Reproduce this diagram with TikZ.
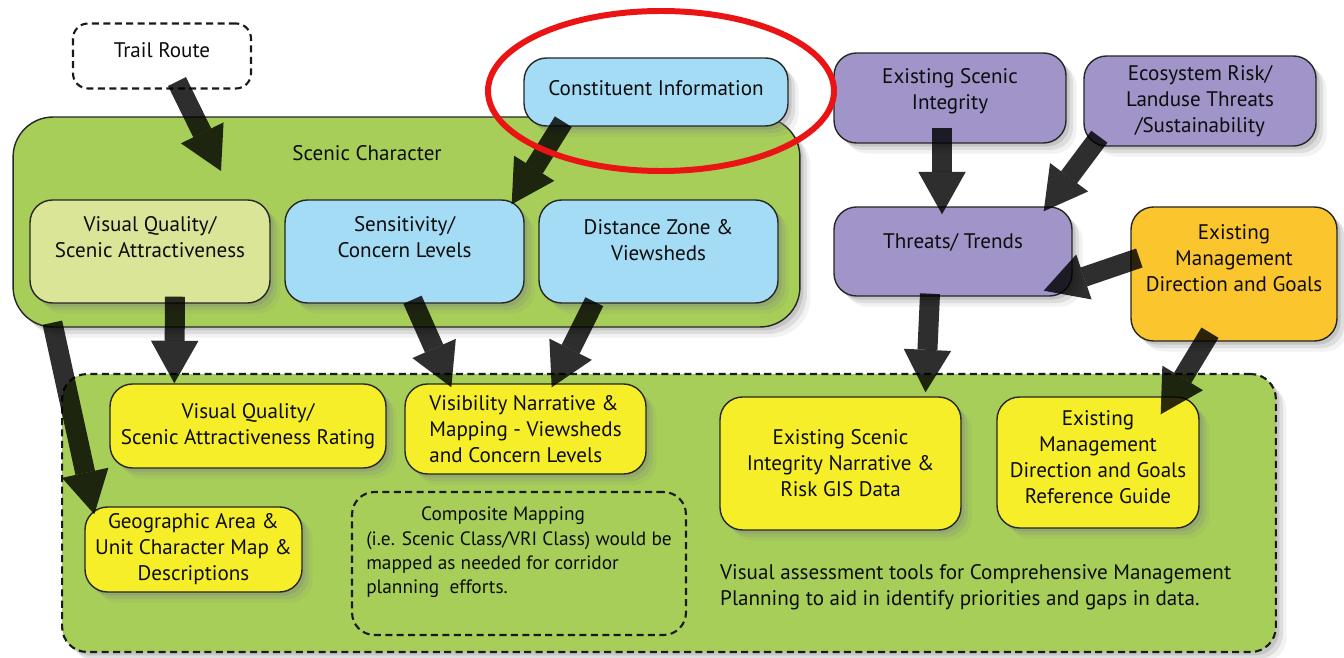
\documentclass[tikz,border=0pt]{standalone}
\usepackage{fontspec}
\setmainfont{PT Sans}
\usetikzlibrary{arrows.meta,positioning,calc,shadows}

\definecolor{scgreen}{RGB}{166,206,88}
\definecolor{vqgreen}{RGB}{218,229,152}
\definecolor{skyblue}{RGB}{165,220,245}
\definecolor{lavender}{RGB}{160,148,200}
\definecolor{amber}{RGB}{250,197,45}
\definecolor{lemon}{RGB}{247,238,42}
\definecolor{ringred}{RGB}{235,20,20}

\tikzset{
  softshadow/.style={
    drop shadow={shadow xshift=2pt, shadow yshift=-2pt, opacity=0.25},
    drop shadow={shadow xshift=4pt, shadow yshift=-4pt, opacity=0.18},
    drop shadow={shadow xshift=6pt, shadow yshift=-6pt, opacity=0.1}},
  box/.style={draw=black!85, line width=0.8pt, rounded corners=0.45cm, softshadow},
  txt/.style={align=center, font=\fontsize{12}{14.8}\selectfont, text=black!95},
  dashbox/.style={draw=black!90, line width=1.2pt, dash pattern=on 4pt off 2.5pt, rounded corners=0.45cm},
  bigarrow/.style={draw=black, opacity=0.82, line width=0.4cm,
    -{Triangle[length=0.85cm, width=0.95cm, line width=0pt]}},
}

\begin{document}
\begin{tikzpicture}[x=0.02cm,y=-0.02cm]
\useasboundingbox (0,0) rectangle (1344,658);
\fill[white] (0,0) rectangle (1344,658);

% Scenic character group
\node[box, fill=scgreen, rounded corners=0.8cm, minimum width=15.74cm, minimum height=4.2cm] (scenic) at (406.5,222) {};
\node[txt] (sclabel) at (367,153) {Scenic Character};
\coordinate (scin) at (221,171);

\node[dashbox, fill=white, rounded corners=0.3cm, minimum width=3.56cm, minimum height=1.3cm,
  label={[txt, yshift=0.12cm]center:{Trail Route}}] (trail) at (162,56) {};

\node[box, fill=vqgreen, minimum width=4.8cm, minimum height=2.06cm,
  label={[txt, yshift=0.28cm]center:{Visual Quality/\\Scenic Attractiveness}}] (vq) at (150,251.5) {};
\node[box, fill=skyblue, minimum width=4.78cm, minimum height=2.06cm,
  label={[txt, yshift=0.28cm]center:{Sensitivity/\\Concern Levels}}] (sens) at (404.5,251.5) {};
\node[box, fill=skyblue, minimum width=4.78cm, minimum height=2.06cm,
  label={[txt, yshift=0.22cm]center:{Distance Zone \&\\Viewsheds}}] (dist) at (658.5,251.5) {};
\node[box, fill=skyblue, minimum width=5.28cm, minimum height=1.36cm,
  label={[txt, yshift=0.08cm]center:{Constituent Information}}] (const) at (656,92) {};

% Threats group
\node[box, fill=lavender, minimum width=4.64cm, minimum height=1.8cm,
  label={[txt, yshift=0.14cm]center:{Existing Scenic\\Integrity}}] (esi) at (950,98) {};
\node[box, fill=lavender, minimum width=4.64cm, minimum height=1.8cm, txt] (eco) at (1200,101)
  {Ecosystem Risk/\\Landuse Threats\\/Sustainability};
\node[box, fill=lavender, minimum width=4.76cm, minimum height=1.78cm,
  label={[txt, yshift=0.18cm]center:{Threats/ Trends}}] (threats) at (953,251.5) {};
\node[box, fill=amber, minimum width=4.12cm, minimum height=2.68cm,
  label={[txt, yshift=0.32cm]center:{Existing\\Management\\Direction and Goals}}] (mgmt) at (1234,274) {};

% Assessment tools
\node[dashbox, fill=scgreen, rounded corners=0.5cm, minimum width=24.28cm, minimum height=5.56cm,
  softshadow] (tools) at (669,513) {};
\node[box, fill=lemon, minimum width=5.52cm, minimum height=1.68cm, txt] (rating) at (248,426)
  {Visual Quality/\\Scenic Attractiveness Rating};
\node[box, fill=lemon, minimum width=4.82cm, minimum height=1.8cm, txt, align=left] (vis) at (525.5,429)
  {Visibility Narrative \&\\Mapping - Viewsheds\\and Concern Levels};
\node[box, fill=lemon, minimum width=4.34cm, minimum height=1.7cm, txt] (geo) at (193.5,549.5)
  {Geographic Area \&\\Unit Character Map \&\\Descriptions};
\node[dashbox, minimum width=6.68cm, minimum height=2.86cm,
  label={[txt, font=\fontsize{11}{13.9}\selectfont, align=left, yshift=0.22cm]center:{\hspace*{1.1cm}Composite Mapping\\(i.e. Scenic Class/VRI Class) would be\\mapped as needed for corridor\\planning\ \ efforts.}}] (comp) at (519,563.5) {};
\node[box, fill=lemon, minimum width=4.82cm, minimum height=2.66cm, txt] (esin) at (840.5,463.5)
  {Existing Scenic\\Integrity Narrative \&\\Risk GIS Data};
\node[box, fill=lemon, minimum width=4.04cm, minimum height=2.62cm,
  label={[txt, yshift=0.1cm]center:{Existing\\Management\\Direction and Goals\\Reference Guide}}] (ref) at (1098,462.5) {};
\node[txt, align=left, anchor=north west] (toolsnote) at (714,558)
  {Visual assessment tools for Comprehensive Management\\Planning to aid in identify priorities and gaps in data.};

% Arrows
\draw[bigarrow] ($(trail.south)+(15,-8)$) -- (scin);
\draw[bigarrow] ($(const.south west)+(40,-5)$) -- ($(sens.north east)+(-13,5)$);
\draw[bigarrow] ($(vq.south)+(25,-7)$) -- ($(rating.north west)+(65,0)$);
\draw[bigarrow] ($(scenic.south west)+(40,-5)$) -- ($(geo.north west)+(10,8)$);
\draw[bigarrow] ($(sens.south)+(8,-4)$) -- ($(vis.north west)+(47,4)$);
\draw[bigarrow] ($(dist.south west)+(56,-2)$) -- ($(vis.north east)+(-95,4)$);
\draw[bigarrow] ($(esi.south)+(-8,-16)$) -- ($(threats.north)+(-11,8)$);
\draw[bigarrow] ($(eco.south west)+(16,-10)$) -- ($(threats.north east)+(-29,5)$);
\draw[bigarrow] ($(mgmt.west)+(9,-16)$) -- ($(threats.south east)+(-29,-6)$);
\draw[bigarrow] ($(threats.south)+(-23,-3)$) -- ($(esin.north)+(85,-4)$);
\draw[bigarrow] ($(mgmt.south)+(-24,-9)$) -- ($(ref.north east)+(-39,18)$);

% Highlight
\draw[ringred, line width=3.4pt] (661,91) ellipse [x radius=173, y radius=80];
\end{tikzpicture}
\end{document}
